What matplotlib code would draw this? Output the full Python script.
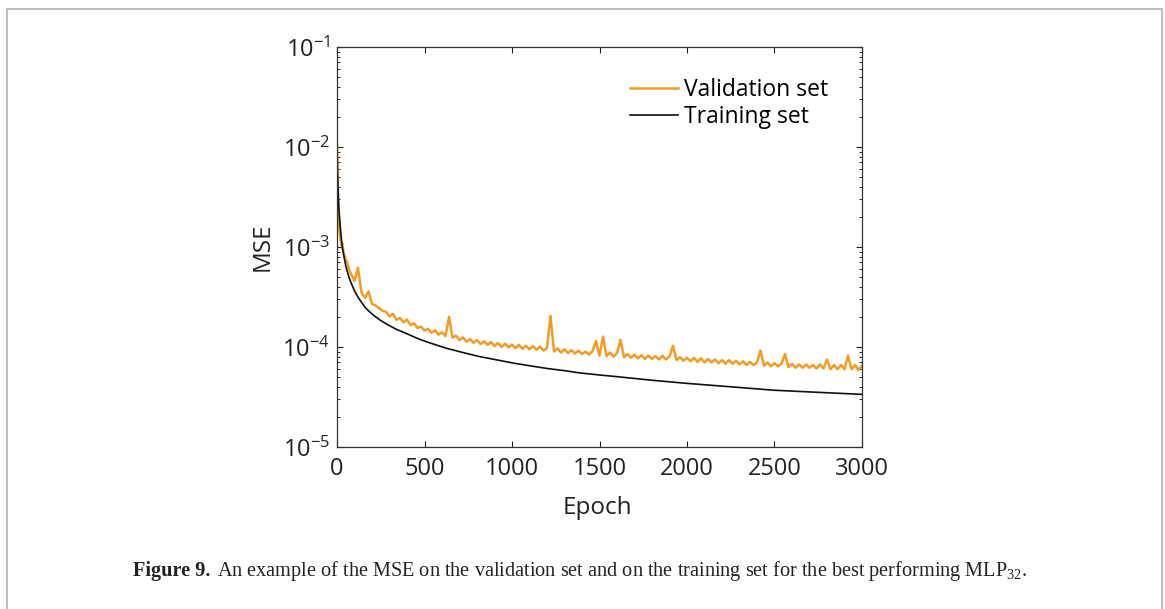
import matplotlib
matplotlib.use("Agg")
import matplotlib.pyplot as plt
import numpy as np
from matplotlib.ticker import LogLocator, FixedLocator, NullFormatter, FuncFormatter
from matplotlib.patches import Rectangle

plt.rcParams['font.family'] = ['Open Sans', 'DejaVu Sans']

# training set MSE (values in units of 1e-4)
train_epoch = [0, 3, 6, 10, 15, 20, 25, 30, 40, 50, 60, 70, 80, 100, 120, 140, 160, 180,
               210, 246, 290, 340, 390, 436, 480, 530, 580, 627, 720, 817, 910, 1008,
               1100, 1200, 1300, 1389, 1500, 1600, 1800, 1998, 2250, 2493, 2750, 3000]
train_mse = [100, 55, 38, 26, 19, 15, 12, 10, 8.0, 6.5, 5.6, 4.9, 4.4, 3.65, 3.15, 2.8, 2.5, 2.3,
             2.07, 1.86, 1.67, 1.5, 1.38, 1.27, 1.18, 1.1, 1.03, 0.97, 0.88, 0.80, 0.745, 0.69,
             0.65, 0.61, 0.58, 0.55, 0.525, 0.505, 0.465, 0.433, 0.40, 0.37, 0.352, 0.336]

# validation set MSE (units of 1e-4): dense start, then every 20 epochs
val_epoch_start = [0, 2, 4, 6, 8, 10, 13, 16, 20, 25, 30, 35, 40, 45, 50, 55, 60, 70]
val_mse_start = [105, 60, 40, 30, 24, 20, 16, 13.5, 12, 10.5, 11, 9.3, 8.5, 8.0, 7.4, 7.2, 6.8, 5.9]
val_epoch_rest = list(range(80, 3001, 20))
val_mse_rest = [
    5.4, 4.6, 6.2, 3.5, 3.1, 3.6, 2.7, 2.6, 2.45, 2.3,
    2.25, 2.02, 2.15, 1.87, 1.95, 1.76, 1.88, 1.65, 1.73, 1.55,
    1.6, 1.46, 1.52, 1.39, 1.47, 1.33, 1.4, 1.29, 2.0, 1.24,
    1.3, 1.17, 1.25, 1.13, 1.2, 1.1, 1.17, 1.07, 1.14, 1.05,
    1.12, 1.02, 1.1, 1.0, 1.08, 0.99, 1.06, 0.97, 1.05, 0.96,
    1.03, 0.95, 1.02, 0.94, 1.01, 0.92, 0.98, 2.05, 0.9, 0.97,
    0.88, 0.95, 0.87, 0.93, 0.86, 0.92, 0.85, 0.9, 0.84, 0.91,
    1.15, 0.82, 1.27, 0.81, 0.88, 0.8, 0.87, 1.18, 0.79, 0.85,
    0.78, 0.84, 0.77, 0.83, 0.76, 0.82, 0.76, 0.81, 0.75, 0.82,
    0.75, 0.8, 1.03, 0.74, 0.79, 0.73, 0.78, 0.72, 0.78, 0.71,
    0.77, 0.7, 0.76, 0.7, 0.75, 0.69, 0.74, 0.68, 0.74, 0.68,
    0.73, 0.67, 0.72, 0.66, 0.71, 0.66, 0.7, 0.92, 0.65, 0.7,
    0.64, 0.69, 0.64, 0.68, 0.85, 0.63, 0.68, 0.62, 0.67, 0.62,
    0.67, 0.62, 0.66, 0.61, 0.67, 0.61, 0.75, 0.6, 0.66, 0.6,
    0.66, 0.6, 0.82, 0.6, 0.66, 0.59, 0.65,
]

x_ticks = [0, 500, 1000, 1500, 2000, 2500, 3000]
y_ticks = [1e-5, 1e-4, 1e-3, 1e-2, 1e-1]

val_epoch = np.array(val_epoch_start + val_epoch_rest)
val_mse = np.array(val_mse_start + val_mse_rest) * 1e-4
train_mse_arr = np.array(train_mse) * 1e-4

fig = plt.figure(figsize=(11.65, 6.09), dpi=100)
ax = fig.add_axes([337/1165, 1-447/609, 525/1165, 400/609])

ax.plot(val_epoch, val_mse, color='#f29b26', lw=1.8, label='Validation set')
ax.plot(train_epoch, train_mse_arr, color='#111111', lw=1.2, label='Training set')

ax.set_yscale('log')
ax.set_xlim(0, 3000)
ax.set_ylim(1e-5, 1e-1)
ax.xaxis.set_major_locator(FixedLocator(x_ticks))
ax.yaxis.set_major_locator(FixedLocator(y_ticks))
ax.yaxis.set_minor_locator(LogLocator(base=10, subs=np.arange(2, 10)))
ax.yaxis.set_minor_formatter(NullFormatter())
ax.yaxis.set_major_formatter(FuncFormatter(
    lambda v, p: r'$\mathregular{10^{%d}}$' % int(round(np.log10(v)))))

ax.tick_params(which='both', direction='in', top=True, right=True, labelsize=17, colors='#222222')
ax.tick_params(which='major', length=4.5, width=0.8)
ax.tick_params(which='minor', length=2.5, width=0.7)
ax.tick_params(axis='x', pad=7)
ax.tick_params(axis='y', pad=5)
for s in ax.spines.values():
    s.set_color('#333333')
    s.set_linewidth(0.9)

ax.set_xlabel('Epoch', fontsize=17.5, color='#222222')
ax.set_ylabel('MSE', fontsize=17.5, color='#222222')
ax.xaxis.set_label_coords(0.497, -0.122)
ax.yaxis.set_label_coords(-0.118, 0.5)

ax.legend(loc='upper left', bbox_to_anchor=(0.558, 0.922), frameon=False, fontsize=16.5,
          handlelength=2.1, handletextpad=0.25, labelspacing=0.12, borderpad=0, borderaxespad=0)

# light frame around the whole figure
fig.patches.append(Rectangle((7/1165, -0.05), 1155/1165, 1.05 - 9/609, transform=fig.transFigure,
                             fill=False, edgecolor='#bdbdbd', lw=1.5))

cap_y = 1 - 576/609
fig.text(133/1165, cap_y, 'Figure 9.', fontsize=14.6, fontweight='bold',
         family='Liberation Serif', color='#222222', va='baseline')
fig.text(217/1165, cap_y, 'An example of the MSE on the validation set and on the training set '
         r'for the best performing MLP$\mathregular{_{32}}$.', fontsize=14.6,
         family='Liberation Serif', color='#222222', va='baseline')

fig.savefig('out.png', dpi=100)
